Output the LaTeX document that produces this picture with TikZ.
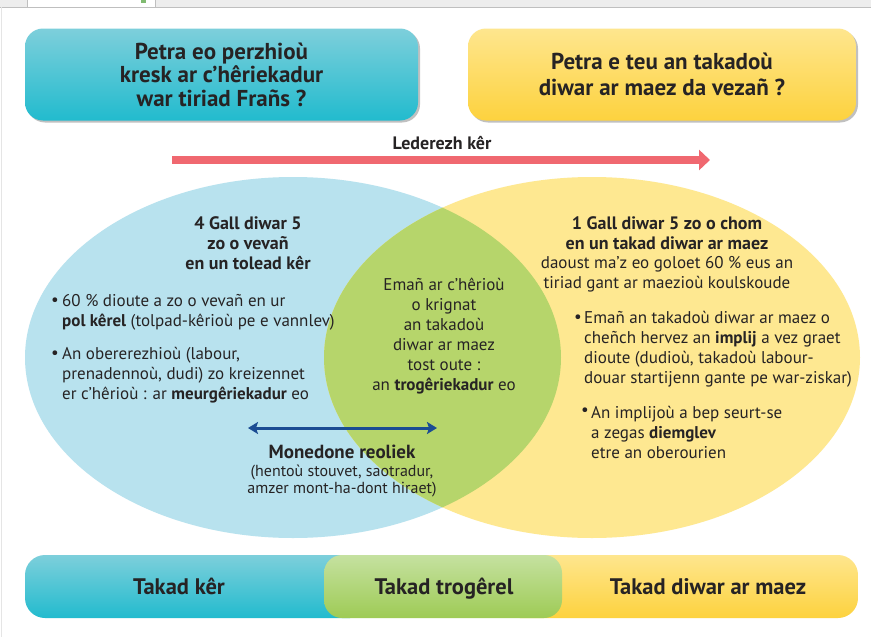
\documentclass[tikz,border=0pt]{standalone}
\usepackage{fontspec}
\setmainfont{PT Sans}
\usetikzlibrary{arrows.meta,shadows}
\definecolor{tealtop}{HTML}{7DCFDB}
\definecolor{tealbot}{HTML}{22BBCE}
\definecolor{yeltop}{HTML}{FEE68E}
\definecolor{yelbot}{HTML}{FDD23E}
\definecolor{grntop}{HTML}{C5E1A0}
\definecolor{grnbot}{HTML}{9ECB55}
\definecolor{ellblue}{HTML}{B8E2EE}
\definecolor{ellyel}{HTML}{FEE891}
\definecolor{ellgrn}{HTML}{B6D56B}
\definecolor{arrred}{HTML}{F06870}
\definecolor{arrblue}{HTML}{1B4C93}
\definecolor{txt}{HTML}{262324}
\tikzset{
  qbox/.style={rounded corners=18pt, minimum height=92pt, align=center,
    drop shadow={shadow xshift=2pt,shadow yshift=-2pt,opacity=0.35,fill=black!70}},
  body/.style={font=\fontsize{17}{20}\selectfont},
  bodyL/.style={body, align=left},
  bodyC/.style={body, align=center},
  head/.style={font=\bfseries\fontsize{18}{20}\selectfont, align=center},
  barlabel/.style={font=\bfseries\fontsize{22.5}{24}\selectfont, anchor=base},
  bul/.style={font=\fontsize{17}{20}\selectfont}
}
\begin{document}
\begin{tikzpicture}[x=1pt,y=-1pt, every node/.style={text=txt, inner sep=0pt}]
\useasboundingbox (0,0) rectangle (871,637);
\fill[white] (0,0) rectangle (871,637);
% top strip
\fill[black!7] (0,0) rectangle (871,7);
\fill[white] (28,0) rectangle (155,7);
\draw[black!25, line width=0.8pt] (0,7) -- (871,7);
\draw[black!25, line width=0.8pt] (27.5,0) -- (27.5,7);
\draw[black!25, line width=0.8pt] (155.5,0) -- (155.5,7);
\fill[ellgrn!70!teal] (141,0) rectangle (146,2.5);
\draw[black!10, line width=0.8pt] (1,7) -- (1,637);

% question boxes
\node[qbox, font=\bfseries\fontsize{23}{23.5}\selectfont, minimum width=393pt, top color=tealtop, bottom color=tealbot] (q1) at (221.5,74.5)
  {Petra eo perzhioù\\kresk ar c’hêriekadur\\war tiriad Frañs ?};
\node[qbox, font=\bfseries\fontsize{23}{25.5}\selectfont, minimum width=388pt, top color=yeltop, bottom color=yelbot] (q2) at (662,74.5)
  {Petra e teu an takadoù\\diwar ar maez da vezañ ?};

% red arrow
\node[font=\bfseries\fontsize{18}{20}\selectfont] (led) at (442,143) {Lederezh kêr};
\coordinate (redS) at (172,160);
\coordinate (redE) at (710,160);
\draw[arrred, line width=8pt, -{Triangle[length=11pt,width=20pt]}] (redS) -- (redE);

% ellipses
\fill[ellblue] (293,357.5) ellipse [x radius=268pt, y radius=180.5pt];
\fill[ellyel] (592,357.5) ellipse [x radius=268pt, y radius=180.5pt];
\begin{scope}
  \clip (293,357.5) ellipse [x radius=268pt, y radius=180.5pt];
  \fill[ellgrn] (592,357.5) ellipse [x radius=268pt, y radius=180.5pt];
\end{scope}

% left ellipse text
\node[head] (lh) at (248,243.5) {4 Gall diwar 5\\zo o vevañ\\en un tolead kêr};
\node[bul] (lb1) at (55,302) {•};
\node[bodyL, anchor=west] (lt1) at (62,312) {60 \% dioute a zo o vevañ en ur\\\textbf{pol kêrel} (tolpad-kêrioù pe e vannlev)};
\node[bul] (lb2) at (55,355) {•};
\node[bodyL, anchor=west] (lt2) at (62,375) {An obererezhioù (labour,\\prenadennoù, dudi) zo kreizennet\\er c’hêrioù : ar \textbf{meurgêriekadur} eo};

% centre text
\node[bodyC] (ct) at (444,336) {Emañ ar c’hêrioù\\o krignat\\an takadoù\\diwar ar maez\\tost oute :\\an \textbf{trogêriekadur} eo};

% blue arrow
\coordinate (bA) at (248,428);
\coordinate (bB) at (437,428);
\draw[arrblue, line width=3pt, {Stealth[length=10pt,width=12pt,inset=2pt]}-{Stealth[length=10pt,width=12pt,inset=2pt]}] (bA) -- (bB);
\node[font=\bfseries\fontsize{19}{20}\selectfont] (mr) at (342,452) {Monedone reoliek};
\node[align=center, font=\fontsize{16}{17}\selectfont] (mrt) at (342,480.5) {(hentoù stouvet, saotradur,\\amzer mont-ha-dont hiraet)};

% right ellipse text
\node[head] (rh) at (667,233) {1 Gall diwar 5 zo o chom\\en un takad diwar ar maez};
\node[bodyC] (rt) at (667,274.5) {daoust ma’z eo goloet 60 \% eus an\\tiriad gant ar maezioù koulskoude};
\node[bul] (rb1) at (578,319) {•};
\node[bodyL, anchor=west] (rt1) at (584,349.5) {Emañ an takadoù diwar ar maez o\\cheñch hervez an \textbf{implij} a vez graet\\dioute (dudioù, takadoù labour-\\douar startijenn gante pe war-ziskar)};
\node[bul] (rb2) at (585,412) {•};
\node[bodyL, anchor=west] (rt2) at (591,432) {An implijoù a bep seurt-se\\a zegas \textbf{diemglev}\\etre an oberourien};

% bottom bar
\shade[top color=yeltop, bottom color=yelbot, rounded corners=20pt] (500,555) rectangle (858,618);
\shade[top color=tealtop, bottom color=tealbot, rounded corners=20pt] (25,555) rectangle (370,618);
\shade[top color=grntop, bottom color=grnbot, rounded corners=18pt] (324,555) rectangle (562,618);
\node[barlabel] (bk) at (179,594.5) {Takad kêr};
\node[barlabel] (bt) at (444,594.5) {Takad trogêrel};
\node[barlabel] (bm) at (708,594.5) {Takad diwar ar maez};
\end{tikzpicture}
\end{document}
